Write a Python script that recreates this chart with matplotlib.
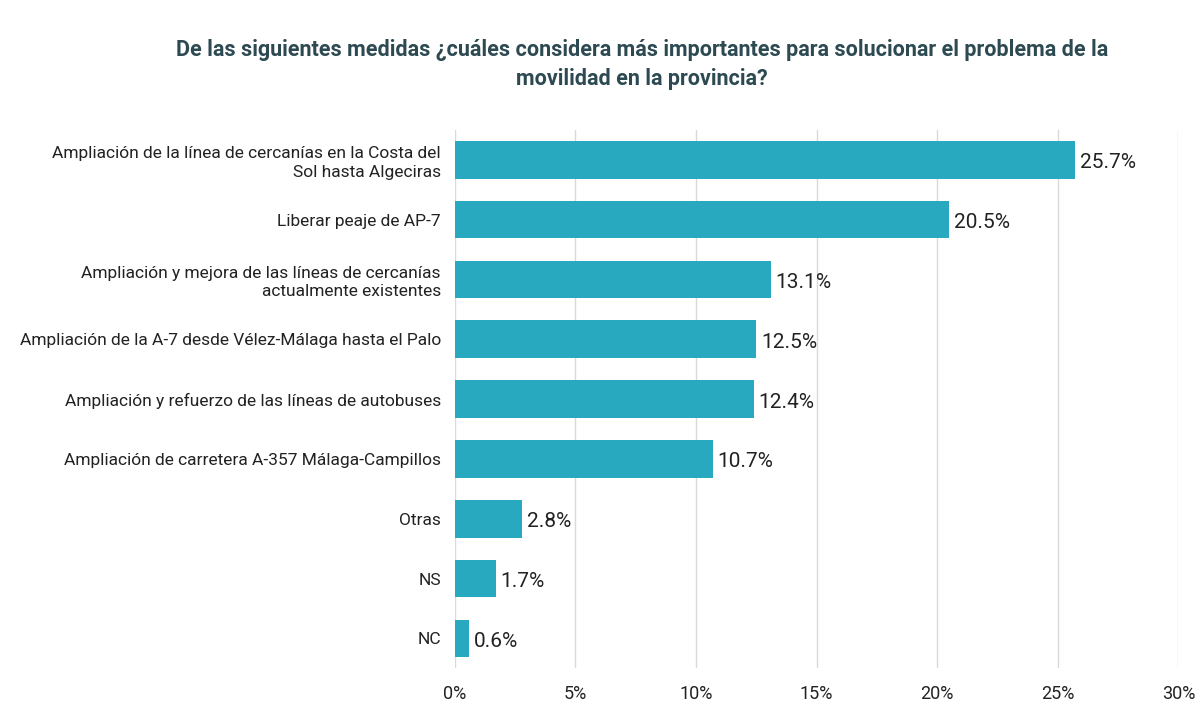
import matplotlib
matplotlib.use('Agg')
from matplotlib import pyplot as plt
import numpy as np

plt.rcParams['font.family'] = ['Roboto', 'DejaVu Sans']

categories = ['Ampliación de la línea de cercanías en la Costa del\nSol hasta Algeciras',
              'Liberar peaje de AP-7',
              'Ampliación y mejora de las líneas de cercanías\nactualmente existentes',
              'Ampliación de la A-7 desde Vélez-Málaga hasta el Palo',
              'Ampliación y refuerzo de las líneas de autobuses',
              'Ampliación de carretera A-357 Málaga-Campillos',
              'Otras', 'NS', 'NC']
values = [25.7, 20.5, 13.1, 12.5, 12.4, 10.7, 2.8, 1.7, 0.6]
xticks = [0, 5, 10, 15, 20, 25, 30]

fig = plt.figure(figsize=(12, 7.21), dpi=100)
ax = fig.add_axes([0.379, 0.073, 0.603, 0.747])
y = np.arange(len(values))
ax.barh(y, values, height=0.63, color='#29a9c0', zorder=3)
for yi, v in zip(y, values):
    ax.text(v + 0.2, yi + 0.05, f'{v}%', va='center', ha='left', fontsize=15, color='#222222')
ax.set_yticks(y)
ax.set_yticklabels(categories, fontsize=12.5, color='#222222', linespacing=1.3)
ax.set_ylim(len(values) - 0.5, -0.5)
ax.set_xlim(0, 30)
ax.set_xticks(xticks)
ax.set_xticklabels([f'{t}%' for t in xticks], fontsize=13, color='#222222')
ax.grid(axis='x', color='#d9d9d9', linewidth=1, zorder=0)
for s in ax.spines.values():
    s.set_visible(False)
ax.tick_params(length=0, pad=10)
ax.tick_params(axis='x', pad=12)

fig.text(0.535, 0.91, 'De las siguientes medidas ¿cuáles considera más importantes para solucionar el problema de la\nmovilidad en la provincia?',
         ha='center', va='center', fontsize=15.5, fontweight='bold', color='#2d4a52', linespacing=1.4)

fig.savefig('out.png', dpi=100)
